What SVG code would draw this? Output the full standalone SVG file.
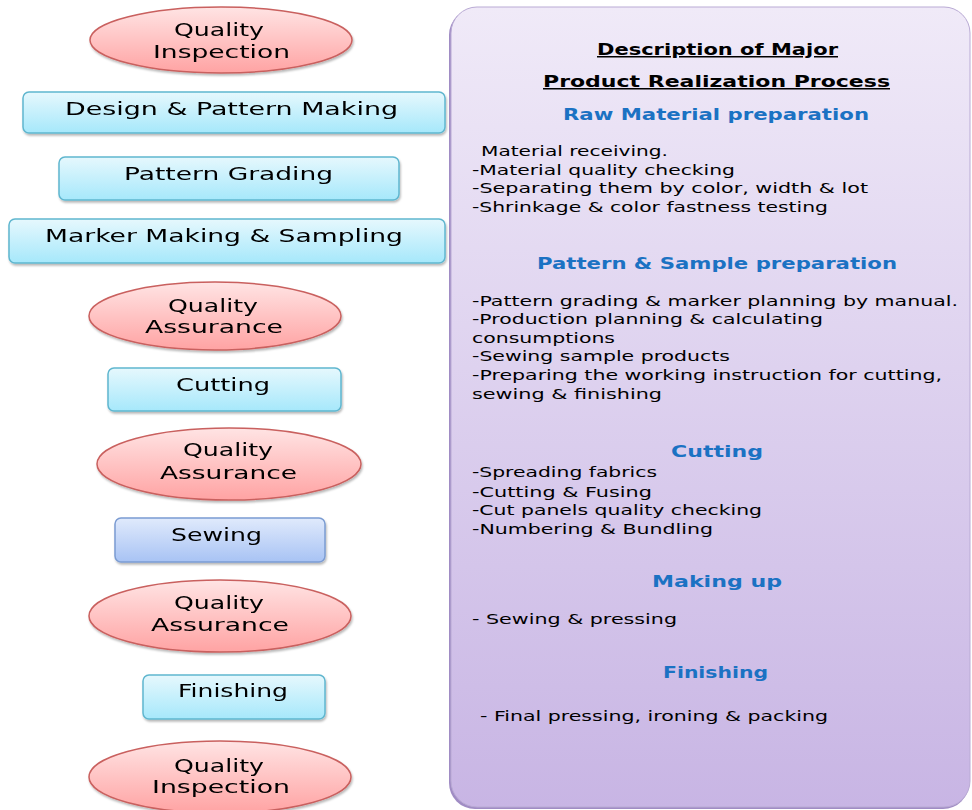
<svg xmlns="http://www.w3.org/2000/svg" width="972" height="810" viewBox="0 0 972 810">
  <defs>
    <linearGradient id="gEll" x1="0" y1="0" x2="0" y2="1">
      <stop offset="0" stop-color="#ffe4e4"/>
      <stop offset="1" stop-color="#ffa3a3"/>
    </linearGradient>
    <linearGradient id="gCyan" x1="0" y1="0" x2="0" y2="1">
      <stop offset="0" stop-color="#e6f8fd"/>
      <stop offset="1" stop-color="#a6e8fb"/>
    </linearGradient>
    <linearGradient id="gBlue" x1="0" y1="0" x2="0" y2="1">
      <stop offset="0" stop-color="#e0eafc"/>
      <stop offset="1" stop-color="#a8c3f4"/>
    </linearGradient>
    <linearGradient id="gPanel" x1="0" y1="0" x2="0" y2="1">
      <stop offset="0" stop-color="#f0eaf8"/>
      <stop offset="1" stop-color="#c8b5e4"/>
    </linearGradient>
    <filter id="shadow" x="-10%" y="-20%" width="120%" height="150%">
      <feDropShadow dx="1" dy="2" stdDeviation="1" flood-color="#000" flood-opacity="0.28"/>
    </filter>
  </defs>
  <style>
    .ell { fill: url(#gEll); stroke: #c9605e; stroke-width: 1.5; }
    .cyan { fill: url(#gCyan); stroke: #5fb6cf; stroke-width: 1.5; }
    .blue { fill: url(#gBlue); stroke: #7b9cd2; stroke-width: 1.5; }
    .lbl { font-family: "DejaVu Sans", "Liberation Sans", sans-serif; font-size: 18px; fill: #000; }
    .body { font-family: "DejaVu Sans", "Liberation Sans", sans-serif; font-size: 14.5px; fill: #000; }
    .head { font-family: "DejaVu Sans", "Liberation Sans", sans-serif; font-size: 15px; font-weight: bold; fill: #000; text-decoration: underline; }
    .sub { font-family: "DejaVu Sans", "Liberation Sans", sans-serif; font-size: 15px; font-weight: bold; fill: #1b72c3; }
  </style>

  <rect width="972" height="810" fill="#ffffff"/>

  <!-- process steps, top to bottom -->
  <g id="qi-top" filter="url(#shadow)">
    <ellipse class="ell" cx="221" cy="40" rx="131" ry="33"/>
    <text class="lbl" x="174" y="36" textLength="90" lengthAdjust="spacingAndGlyphs">Quality</text>
    <text class="lbl" x="153" y="58" textLength="137" lengthAdjust="spacingAndGlyphs">Inspection</text>
  </g>
  <g id="design" filter="url(#shadow)">
    <rect class="cyan" x="23" y="92" width="422" height="41" rx="6"/>
    <text class="lbl" x="65" y="115" textLength="333" lengthAdjust="spacingAndGlyphs">Design &amp; Pattern Making</text>
  </g>
  <g id="grading" filter="url(#shadow)">
    <rect class="cyan" x="59" y="157" width="340" height="43" rx="6"/>
    <text class="lbl" x="124" y="180" textLength="209" lengthAdjust="spacingAndGlyphs">Pattern Grading</text>
  </g>
  <g id="marker" filter="url(#shadow)">
    <rect class="cyan" x="9" y="219" width="436" height="44" rx="6"/>
    <text class="lbl" x="45" y="242" textLength="358" lengthAdjust="spacingAndGlyphs">Marker Making &amp; Sampling</text>
  </g>
  <g id="qa-1" filter="url(#shadow)">
    <ellipse class="ell" cx="215" cy="316" rx="126" ry="34"/>
    <text class="lbl" x="168" y="312" textLength="90" lengthAdjust="spacingAndGlyphs">Quality</text>
    <text class="lbl" x="145" y="333" textLength="138" lengthAdjust="spacingAndGlyphs">Assurance</text>
  </g>
  <g id="cutting" filter="url(#shadow)">
    <rect class="cyan" x="108" y="368" width="233" height="43" rx="6"/>
    <text class="lbl" x="176" y="391" textLength="94" lengthAdjust="spacingAndGlyphs">Cutting</text>
  </g>
  <g id="qa-2" filter="url(#shadow)">
    <ellipse class="ell" cx="229" cy="464" rx="132" ry="36"/>
    <text class="lbl" x="183" y="456" textLength="90" lengthAdjust="spacingAndGlyphs">Quality</text>
    <text class="lbl" x="160" y="479" textLength="137" lengthAdjust="spacingAndGlyphs">Assurance</text>
  </g>
  <g id="sewing" filter="url(#shadow)">
    <rect class="blue" x="115" y="518" width="210" height="44" rx="6"/>
    <text class="lbl" x="171" y="541" textLength="91" lengthAdjust="spacingAndGlyphs">Sewing</text>
  </g>
  <g id="qa-3" filter="url(#shadow)">
    <ellipse class="ell" cx="220" cy="616" rx="131" ry="36"/>
    <text class="lbl" x="174" y="609" textLength="90" lengthAdjust="spacingAndGlyphs">Quality</text>
    <text class="lbl" x="151" y="631" textLength="138" lengthAdjust="spacingAndGlyphs">Assurance</text>
  </g>
  <g id="finishing" filter="url(#shadow)">
    <rect class="cyan" x="143" y="675" width="182" height="44" rx="6"/>
    <text class="lbl" x="178" y="697" textLength="110" lengthAdjust="spacingAndGlyphs">Finishing</text>
  </g>
  <g id="qi-bottom" filter="url(#shadow)">
    <ellipse class="ell" cx="220" cy="777" rx="131" ry="36"/>
    <text class="lbl" x="174" y="772" textLength="90" lengthAdjust="spacingAndGlyphs">Quality</text>
    <text class="lbl" x="152" y="793" textLength="138" lengthAdjust="spacingAndGlyphs">Inspection</text>
  </g>

  <g id="connectors"/>

  <!-- description panel -->
  <g id="description">
    <rect x="449" y="9" width="520" height="800" rx="26" fill="#a08cc4"/>
    <rect x="451" y="7" width="519" height="800" rx="26" fill="url(#gPanel)" stroke="#b9aad4" stroke-width="1"/>

    <text class="head" x="597" y="55" textLength="241" lengthAdjust="spacingAndGlyphs">Description of Major</text>
    <text class="head" x="543" y="87" textLength="347" lengthAdjust="spacingAndGlyphs">Product Realization  Process</text>

    <text class="sub" x="563" y="120" textLength="306" lengthAdjust="spacingAndGlyphs">Raw Material preparation</text>
    <text class="body" x="481" y="156" textLength="187" lengthAdjust="spacingAndGlyphs">Material receiving.</text>
    <text class="body" x="472" y="175" textLength="263" lengthAdjust="spacingAndGlyphs">-Material quality checking</text>
    <text class="body" x="472" y="193" textLength="396" lengthAdjust="spacingAndGlyphs">-Separating them by color, width &amp; lot</text>
    <text class="body" x="472" y="212" textLength="356" lengthAdjust="spacingAndGlyphs">-Shrinkage &amp; color fastness testing</text>

    <text class="sub" x="537" y="269" textLength="360" lengthAdjust="spacingAndGlyphs">Pattern &amp; Sample preparation</text>
    <text class="body" x="472" y="306" textLength="486" lengthAdjust="spacingAndGlyphs">-Pattern grading &amp; marker planning by manual.</text>
    <text class="body" x="472" y="324" textLength="351" lengthAdjust="spacingAndGlyphs">-Production planning &amp; calculating</text>
    <text class="body" x="472" y="343" textLength="143" lengthAdjust="spacingAndGlyphs">consumptions</text>
    <text class="body" x="472" y="361" textLength="258" lengthAdjust="spacingAndGlyphs">-Sewing sample products</text>
    <text class="body" x="472" y="380" textLength="470" lengthAdjust="spacingAndGlyphs">-Preparing the working instruction for cutting,</text>
    <text class="body" x="472" y="399" textLength="190" lengthAdjust="spacingAndGlyphs">sewing &amp; finishing</text>

    <text class="sub" x="671" y="457" textLength="92" lengthAdjust="spacingAndGlyphs">Cutting</text>
    <text class="body" x="472" y="477" textLength="185" lengthAdjust="spacingAndGlyphs">-Spreading fabrics</text>
    <text class="body" x="472" y="497" textLength="180" lengthAdjust="spacingAndGlyphs">-Cutting &amp; Fusing</text>
    <text class="body" x="472" y="515" textLength="290" lengthAdjust="spacingAndGlyphs">-Cut panels quality checking</text>
    <text class="body" x="472" y="534" textLength="241" lengthAdjust="spacingAndGlyphs">-Numbering &amp; Bundling</text>

    <text class="sub" x="652" y="587" textLength="130" lengthAdjust="spacingAndGlyphs">Making up</text>
    <text class="body" x="472" y="624" textLength="205" lengthAdjust="spacingAndGlyphs">- Sewing &amp; pressing</text>

    <text class="sub" x="663" y="678" textLength="105" lengthAdjust="spacingAndGlyphs">Finishing</text>
    <text class="body" x="480" y="721" textLength="348" lengthAdjust="spacingAndGlyphs">- Final pressing, ironing &amp; packing</text>
  </g>
</svg>
